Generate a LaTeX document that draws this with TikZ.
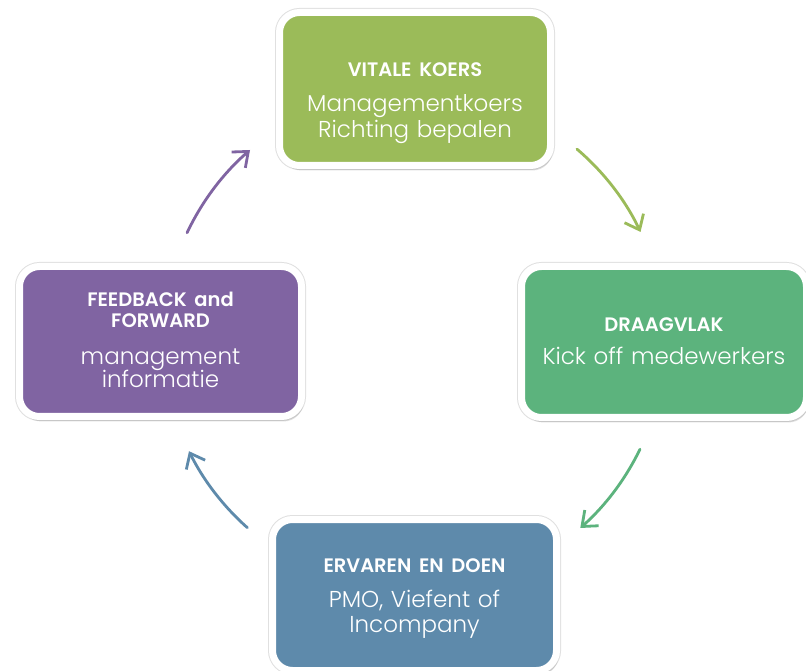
\documentclass[tikz,border=0pt]{standalone}
\usepackage{fontspec}
\setmainfont{Poppins}
\newfontfamily\lightfont{Poppins Light}
\usetikzlibrary{arrows.meta,shadows}
\definecolor{cOlive}{HTML}{9BBB59}
\definecolor{cGreen}{HTML}{5CB37D}
\definecolor{cBlue}{HTML}{5E8AAB}
\definecolor{cPurple}{HTML}{8064A2}
\newcommand{\hd}{\fontsize{19.5}{26}\selectfont\bfseries}
\newcommand{\bd}{\fontsize{23}{26}\selectfont\lightfont}
\begin{document}
\begin{tikzpicture}[x=1pt,y=1pt,
  panel/.style={rounded corners=20pt, fill=#1, draw=white, line width=7pt,
    preaction={draw=black!12, line width=9pt},
    drop shadow={opacity=0.25, shadow xshift=2pt, shadow yshift=-5pt},
    inner sep=0pt},
  paneltext/.style={text=white, text width=276pt, align=center, anchor=base, inner sep=0pt, font=\bd},
  flow/.style={draw=#1, line width=2.8pt, line cap=round, -{Straight Barb[length=13pt,width=21pt]}}
]
\useasboundingbox (0,0) rectangle (806,670);
\fill[white] (0,0) rectangle (806,670);

\node[panel=cOlive, minimum width=271pt, minimum height=153pt] (koers) at (415,581) {};
\node[panel=cGreen, minimum width=285pt, minimum height=151pt] (draag) at (664,328) {};
\node[panel=cBlue, minimum width=284pt, minimum height=151pt] (doen) at (414.5,75) {};
\node[panel=cPurple, minimum width=282pt, minimum height=150pt] (feed) at (160.5,328.5) {};

\node[paneltext] (koerstxt) at (415,593) {{\hd VITALE KOERS}\\[9pt]Managementkoers\\Richting bepalen};
\node[paneltext] (draagtxt) at (664,338) {{\hd DRAAGVLAK}\\[7pt]Kick off medewerkers};
\node[paneltext] (doentxt) at (414.5,98) {{\hd ERVAREN EN DOEN}\\[9pt]PMO, Viefent of\\[-1pt]Incompany};
\node[paneltext] (feedtxt) at (160.5,363) {{\hd FEEDBACK and}\\[-5pt]{\hd FORWARD}\\[11pt]management\\[-3pt]informatie};

\coordinate (c) at (414,330);
\draw[flow=cOlive] ([shift={(49.5:251)}]c) arc[start angle=49.5, end angle=25.5, radius=251];
\draw[flow=cGreen] ([shift={(-25.8:251)}]c) arc[start angle=-25.8, end angle=-48.5, radius=251];
\draw[flow=cBlue] ([shift={(228.4:251)}]c) arc[start angle=228.4, end angle=206.3, radius=251];
\draw[flow=cPurple] ([shift={(154.7:251)}]c) arc[start angle=154.7, end angle=130.8, radius=251];
\end{tikzpicture}
\end{document}
